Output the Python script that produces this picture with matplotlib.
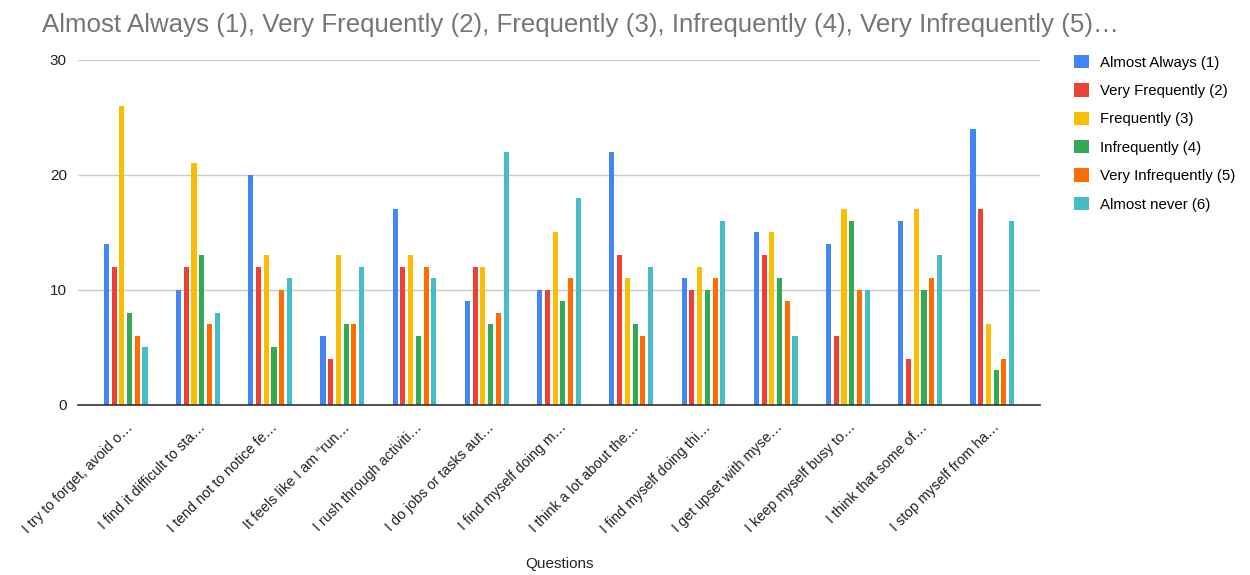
import matplotlib
matplotlib.use("Agg")
import matplotlib.pyplot as plt
import numpy as np

plt.rcParams['font.family'] = ['Liberation Sans', 'DejaVu Sans']

questions = [
    "I try to forget, avoid o…",
    "I find it difficult to sta…",
    "I tend not to notice fe…",
    "It feels like I am \u201crun…",
    "I rush through activiti…",
    "I do jobs or tasks aut…",
    "I find myself doing m…",
    "I think a lot about the…",
    "I find myself doing thi…",
    "I get upset with myse…",
    "I keep myself busy to…",
    "I think that some of…",
    "I stop myself from ha…",
]

series_names = [
    "Almost Always (1)",
    "Very Frequently (2)",
    "Frequently (3)",
    "Infrequently (4)",
    "Very Infrequently (5)",
    "Almost never (6)",
]

almost_always = [14, 10, 20, 6, 17, 9, 10, 22, 11, 15, 14, 16, 24]
very_frequently = [12, 12, 12, 4, 12, 12, 10, 13, 10, 13, 6, 4, 17]
frequently = [26, 21, 13, 13, 13, 12, 15, 11, 12, 15, 17, 17, 7]
infrequently = [8, 13, 5, 7, 6, 7, 9, 7, 10, 11, 16, 10, 3]
very_infrequently = [6, 7, 10, 7, 12, 8, 11, 6, 11, 9, 10, 11, 4]
almost_never = [5, 8, 11, 12, 11, 22, 18, 12, 16, 6, 10, 13, 16]

colors = ["#4285F4", "#EA4335", "#FBBC04", "#34A853", "#FF6D01", "#46BDC6"]

all_series = [almost_always, very_frequently, frequently,
              infrequently, very_infrequently, almost_never]

fig = plt.figure(figsize=(12.5, 5.75), dpi=100)
ax = fig.add_axes([0.0624, 0.2957, 0.832 - 0.0624, 0.6])

x = np.arange(len(questions))
pitch = 0.107
width = 0.07
for i, (name, vals, c) in enumerate(zip(series_names, all_series, colors)):
    offs = (i - 2.5) * pitch
    ax.bar(x + offs, vals, width=width, color=c, label=name, zorder=3)

ax.set_xlim(-0.66, 12.66)
ax.set_ylim(0, 30)
ax.set_yticks([0, 10, 20, 30])
ax.yaxis.grid(True, color="#cccccc", linewidth=1, zorder=0)
for s in ["top", "right", "left"]:
    ax.spines[s].set_visible(False)
ax.spines["bottom"].set_color("#333333")
ax.spines["bottom"].set_linewidth(1.2)
ax.spines["bottom"].set_zorder(4)
ax.tick_params(axis="both", length=0, colors="#222222")
ax.tick_params(axis="y", pad=8, labelsize=11)
ax.set_xticks(x)
ax.set_xticklabels(questions, rotation=45, ha="right", rotation_mode="anchor")
ax.tick_params(axis="x", pad=11, labelsize=10.3)
ax.set_xlabel("Questions", fontsize=11, color="#222222", labelpad=15)

fig.text(0.034, 0.978,
         "Almost Always (1), Very Frequently (2), Frequently (3), Infrequently (4), Very Infrequently (5)…",
         fontsize=18.6, color="#757575", ha="left", va="top")

leg = fig.legend(loc="upper left", bbox_to_anchor=(0.848, 0.928), frameon=False,
                 fontsize=10.8, handlelength=1.0, handleheight=1.0,
                 labelspacing=0.9, handletextpad=0.8)

fig.savefig("out.png", dpi=100)
